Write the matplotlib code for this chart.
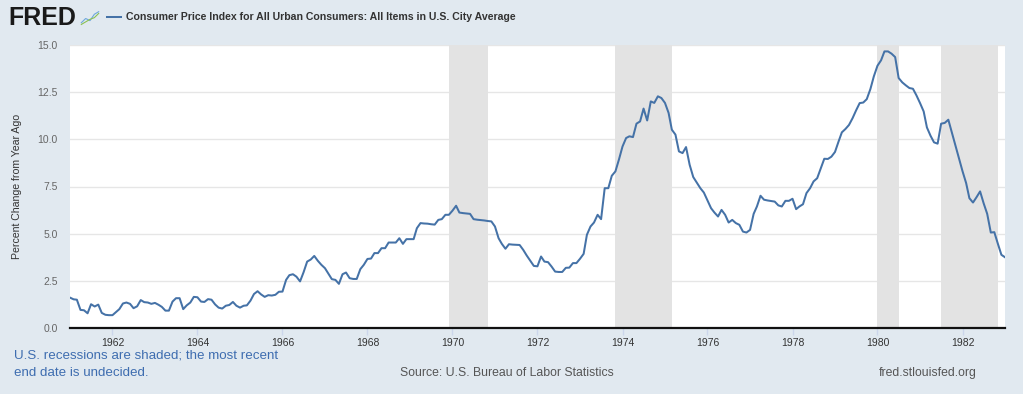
import matplotlib
matplotlib.use("Agg")
import matplotlib.pyplot as plt
from matplotlib.lines import Line2D
import pandas as pd

plt.rcParams['font.family'] = ['Liberation Sans', 'DejaVu Sans']

# CPI-U, percent change from year ago, monthly from Jan 1961
START = "1961-01-01"
cpi_1961 = [1.61, 1.52, 1.50, 0.96, 0.94, 0.78, 1.26, 1.14, 1.24, 0.80, 0.70, 0.68]
cpi_1962 = [0.68, 0.85, 1.00, 1.30, 1.35, 1.28, 1.05, 1.15, 1.48, 1.37, 1.35, 1.28]
cpi_1963 = [1.33, 1.23, 1.12, 0.92, 0.92, 1.40, 1.58, 1.58, 1.00, 1.20, 1.35, 1.65]
cpi_1964 = [1.63, 1.40, 1.38, 1.53, 1.50, 1.25, 1.08, 1.03, 1.18, 1.22, 1.38, 1.18]
cpi_1965 = [1.08, 1.18, 1.20, 1.45, 1.80, 1.95, 1.78, 1.65, 1.74, 1.72, 1.76, 1.92]
cpi_1966 = [1.93, 2.55, 2.80, 2.85, 2.72, 2.47, 2.95, 3.52, 3.63, 3.82, 3.56, 3.35]
cpi_1967 = [3.17, 2.87, 2.59, 2.55, 2.34, 2.85, 2.94, 2.64, 2.60, 2.60, 3.12, 3.35]
cpi_1968 = [3.66, 3.68, 3.97, 3.97, 4.23, 4.23, 4.53, 4.53, 4.53, 4.76, 4.46, 4.71]
cpi_1969 = [4.71, 4.71, 5.29, 5.56, 5.54, 5.53, 5.50, 5.48, 5.73, 5.77, 6.00, 6.00]
cpi_1970 = [6.22, 6.48, 6.12, 6.09, 6.07, 6.05, 5.77, 5.74, 5.72, 5.70, 5.67, 5.65]
cpi_1971 = [5.38, 4.76, 4.46, 4.20, 4.44, 4.42, 4.41, 4.40, 4.14, 3.84, 3.56, 3.29]
cpi_1972 = [3.27, 3.79, 3.52, 3.49, 3.26, 2.99, 2.97, 2.97, 3.19, 3.20, 3.44, 3.44]
cpi_1973 = [3.67, 3.93, 4.94, 5.38, 5.59, 6.00, 5.77, 7.41, 7.41, 8.07, 8.30, 8.92]
cpi_1974 = [9.62, 10.07, 10.16, 10.12, 10.83, 10.95, 11.63, 11.00, 12.01, 11.93, 12.28, 12.19]
cpi_1975 = [11.93, 11.40, 10.51, 10.25, 9.36, 9.27, 9.59, 8.65, 8.00, 7.71, 7.41, 7.18]
cpi_1976 = [6.76, 6.35, 6.12, 5.91, 6.26, 6.00, 5.59, 5.73, 5.56, 5.47, 5.11, 5.06]
cpi_1977 = [5.20, 6.05, 6.44, 7.01, 6.80, 6.76, 6.73, 6.70, 6.50, 6.44, 6.74, 6.74]
cpi_1978 = [6.85, 6.30, 6.44, 6.56, 7.15, 7.41, 7.77, 7.94, 8.47, 8.97, 8.96, 9.08]
cpi_1979 = [9.33, 9.89, 10.37, 10.55, 10.76, 11.12, 11.53, 11.92, 11.95, 12.13, 12.66, 13.34]
cpi_1980 = [13.90, 14.19, 14.66, 14.66, 14.54, 14.36, 13.25, 13.02, 12.86, 12.72, 12.68, 12.33]
cpi_1981 = [11.92, 11.48, 10.63, 10.19, 9.84, 9.77, 10.83, 10.87, 11.04, 10.37, 9.66, 9.01]
cpi_1982 = [8.31, 7.68, 6.88, 6.65, 6.93, 7.24, 6.62, 6.05, 5.06, 5.08, 4.46, 3.88]
cpi_1983 = [3.75]

RECESSION_STARTS = ["1969-12-01", "1973-11-01", "1980-01-01", "1981-07-01"]
RECESSION_ENDS = ["1970-11-01", "1975-03-01", "1980-07-01", "1982-11-01"]
TICK_YEARS = list(range(1962, 1983, 2))
Y_TICKS = [0.0, 2.5, 5.0, 7.5, 10.0, 12.5, 15.0]

SERIES_NAME = "Consumer Price Index for All Urban Consumers: All Items in U.S. City Average"

BG = '#e1e9f0'
LINE = '#4572a7'
W, H = 1023, 394

values = (cpi_1961 + cpi_1962 + cpi_1963 + cpi_1964 + cpi_1965 + cpi_1966
          + cpi_1967 + cpi_1968 + cpi_1969 + cpi_1970 + cpi_1971 + cpi_1972
          + cpi_1973 + cpi_1974 + cpi_1975 + cpi_1976 + cpi_1977 + cpi_1978
          + cpi_1979 + cpi_1980 + cpi_1981 + cpi_1982 + cpi_1983)
dates = pd.date_range(START, periods=len(values), freq="MS")

fig = plt.figure(figsize=(W / 100, H / 100), dpi=100, facecolor=BG)
ax = fig.add_axes([70 / W, 66 / H, 935 / W, 283 / H])
ax.set_facecolor('white')

for s, e in zip(RECESSION_STARTS, RECESSION_ENDS):
    ax.axvspan(pd.Timestamp(s), pd.Timestamp(e), color='#e3e3e3', lw=0, zorder=1)

ax.plot(dates, values, color=LINE, lw=1.45, zorder=3)

ax.set_xlim(dates[0], dates[-1])
ax.set_ylim(0, 15)
ax.set_yticks(Y_TICKS)
ax.set_yticklabels([f"{v:.1f}" for v in Y_TICKS])
ax.set_xticks([pd.Timestamp(f"{y}-01-01") for y in TICK_YEARS])
ax.set_xticklabels([str(y) for y in TICK_YEARS])
ax.yaxis.grid(True, color='#e6e6e6', lw=1)
ax.set_axisbelow(True)

for side in ['top', 'right', 'left']:
    ax.spines[side].set_visible(False)
ax.spines['bottom'].set_color('#111111')
ax.spines['bottom'].set_linewidth(1.6)
ax.spines['bottom'].set_zorder(4)

ax.tick_params(axis='y', length=0, pad=9, labelsize=7.5, labelcolor='#666666')
ax.tick_params(axis='x', length=5, width=1, color='#ccd6eb', pad=2,
               labelsize=7.5, labelcolor='#333333')

fig.text(17 / W, 1 - 186.5 / H, "Percent Change from Year Ago", rotation=90,
         ha='center', va='center', fontsize=7.6, color='#333333')

# header: logo + legend
fig.text(8 / W, 1 - 18 / H, "FRED", fontsize=18, fontweight='bold',
         color='#1a1a1a', ha='left', va='center')
icon = fig.add_axes([80 / W, 1 - 27 / H, 20 / W, 17 / H])
icon.set_facecolor('#d5e0ea')
icon.plot([0, 1, 2, 3, 4], [1, 2, 1.5, 3, 3.6], color='#6fa8dc', lw=0.8)
icon.plot([0, 1, 2, 3, 4], [0.6, 1.2, 1.8, 2.2, 3.2], color='#8cc152', lw=0.8)
icon.set_xlim(-0.3, 4.3)
icon.set_ylim(0, 4)
icon.axis('off')
icon.patch.set_visible(True)

fig.add_artist(Line2D([107 / W, 121 / W], [1 - 17 / H, 1 - 17 / H],
                      transform=fig.transFigure, color=LINE, lw=1.45))
fig.text(126 / W, 1 - 17 / H, SERIES_NAME, fontsize=7.6, fontweight='bold',
         color='#333333', ha='left', va='center')

# footer
fig.text(14 / W, 1 - 356 / H, "U.S. recessions are shaded; the most recent",
         fontsize=9.6, color='#3e6db0', ha='left', va='center')
fig.text(14 / W, 1 - 373 / H, "end date is undecided.",
         fontsize=9.6, color='#3e6db0', ha='left', va='center')
fig.text(506.5 / W, 1 - 373 / H, "Source: U.S. Bureau of Labor Statistics",
         fontsize=8.8, color='#555555', ha='center', va='center')
fig.text(977 / W, 1 - 373 / H, "fred.stlouisfed.org",
         fontsize=8.8, color='#555555', ha='right', va='center')

fig.savefig("out.png", dpi=100, facecolor=BG)
